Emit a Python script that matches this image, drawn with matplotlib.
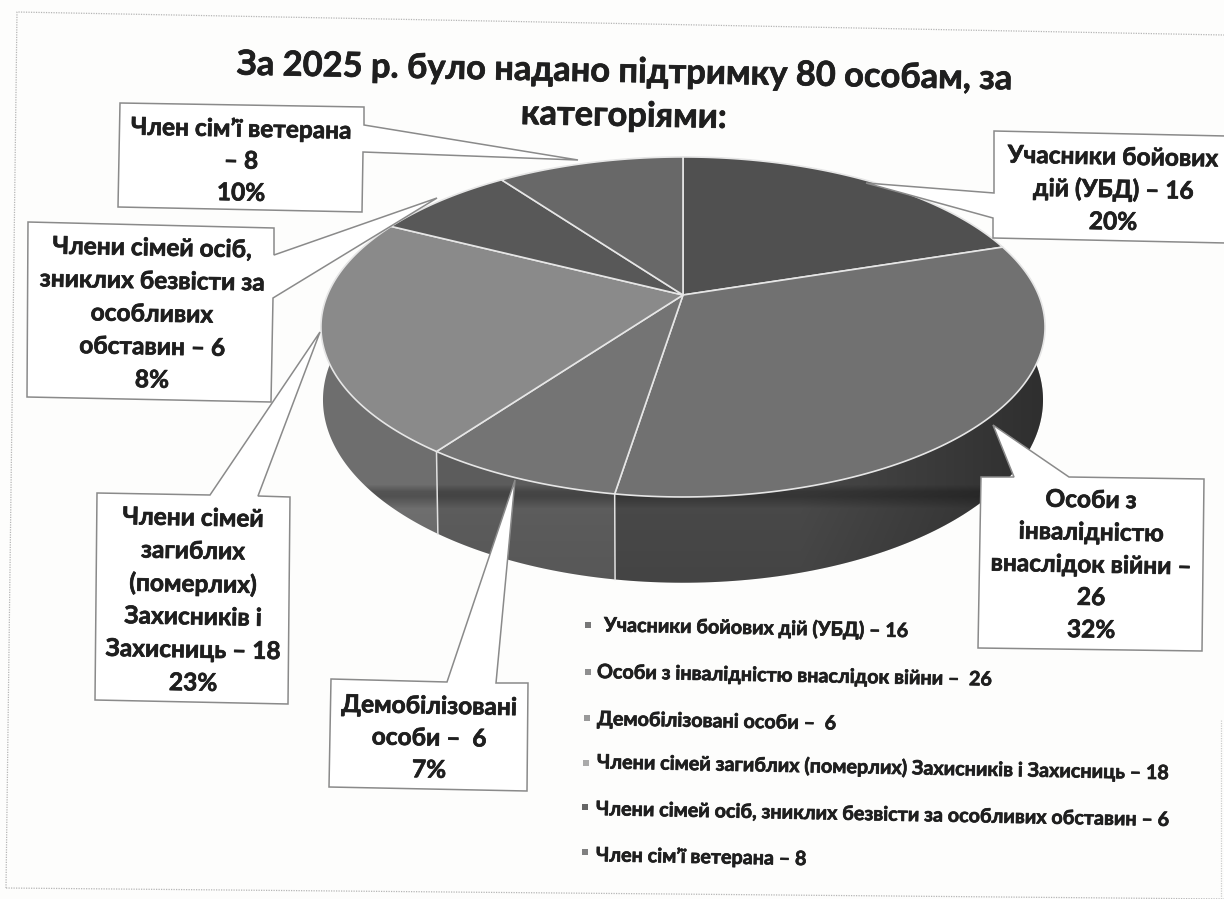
import numpy as np
import matplotlib
matplotlib.use("Agg")
import matplotlib.pyplot as plt
import matplotlib.patheffects as pe
from matplotlib.patches import PathPatch
from matplotlib.path import Path

plt.rcParams['font.family'] = ['Lato', 'Noto Sans', 'DejaVu Sans']
plt.rcParams['font.weight'] = 'bold'

title_lines = ["За 2025 р. було надано підтримку 80 особам, за", "категоріями:"]

values = [16, 26, 6, 18, 6, 8]
percents = ["20%", "32%", "7%", "23%", "8%", "10%"]

callout_lines = [
    ["Учасники бойових", "дій (УБД) – 16"],
    ["Особи з", "інвалідністю", "внаслідок війни –", "26"],
    ["Демобілізовані", "особи –  6"],
    ["Члени сімей", "загиблих", "(померлих)", "Захисників і", "Захисниць – 18"],
    ["Члени сімей осіб,", "зниклих безвісти за", "особливих", "обставин – 6"],
    ["Член сім’ї ветерана", "– 8"],
]

legend_labels = [
    "Учасники бойових дій (УБД) – 16",
    "Особи з інвалідністю внаслідок війни –  26",
    "Демобілізовані особи –  6",
    "Члени сімей загиблих (померлих) Захисників і Захисниць – 18",
    "Члени сімей осіб, зниклих безвісти за особливих обставин – 6",
    "Член сім’ї ветерана – 8",
]

top_colors = ["#505050", "#717171", "#747474", "#8a8a8a", "#585858", "#686868"]
side_colors = ["#333333", "#484848", "#5c5c5c", "#6e6e6e", "#5a5a5a", "#5a5a5a"]
legend_colors = ["#777777", "#8f8f8f", "#999999", "#aaaaaa", "#666666", "#808080"]

# box outline, pointer (attach a, tip, attach b), first text line y, line step
boxes = [
    dict(corners=[(994, 131), (1226, 136), (1226, 243), (993, 238)], side=0,
         ptr=[(994, 193), (866, 183), (993, 218)], cx=1113, y0=157, step=32.5),
    dict(corners=[(981, 477), (1204, 479), (1202, 651), (978, 648)], side=0,
         ptr=[(1069, 477), (993, 425), (1014, 477)], cx=1091, y0=500, step=32.5),
    dict(corners=[(331, 679), (528, 683), (527, 791), (329, 787)], side=0,
         ptr=[(496, 683), (515, 480), (447, 682)], cx=429, y0=706, step=32),
    dict(corners=[(97, 493), (290, 497), (288, 704), (95, 700)], side=0,
         ptr=[(258, 496), (320, 332), (210, 495)], cx=193, y0=518, step=33),
    dict(corners=[(28, 222), (274, 228), (271, 402), (27, 397)], side=1,
         ptr=[(273, 298), (437, 198), (274, 255)], cx=152, y0=248, step=33),
    dict(corners=[(120, 103), (364, 107), (362, 212), (118, 207)], side=1,
         ptr=[(363, 152), (578, 160), (364, 125)], cx=241, y0=129, step=32),
]

legend_y = [625, 672, 719, 762, 809, 855]
legend_x = [604, 597, 597, 597, 596, 596]
marker_x = [588, 588, 587, 586, 585, 585]
marker_y = [625, 672, 718, 763, 807, 852]

SCAN_TILT = -1.1
INK = "#1f1f1f"
heavy = [pe.withStroke(linewidth=0.5, foreground=INK)]


def project(theta, cy, a, b, k=0.188, cx=683):
    # circle to ellipse with a perspective shift, theta clockwise from the top
    u, v = np.sin(theta), np.cos(theta)
    w = 1 + k * v
    return cx + a * u / w, cy - b * v / w


def top_rim(theta):
    return project(theta, 295, 355.6, 164)


def bottom_rim(theta):
    return project(theta, 365.5, 353.6, 176.4)


fig = plt.figure(figsize=(12.24, 8.99), dpi=100, facecolor="#fdfdfc")
ax = fig.add_axes([0, 0, 1, 1])
ax.axis("off")

# scan frame
ax.plot([6, 17, 1224], [888, 12, 35], color="#b5b5b5", lw=0.9, ls=(0, (1, 1)))
ax.plot([6, 1224], [888, 899], color="#b5b5b5", lw=0.9, ls=(0, (1, 1)))
ax.plot([1221, 1221], [720, 899], color="#cccccc", lw=0.9, ls=(0, (1, 1)))

edges = np.radians(np.concatenate([[0], np.cumsum(values)]) / np.sum(values) * 360)

# sides
for i in range(len(values)):
    t = np.linspace(edges[i], edges[i + 1], 120)
    xt, yt = top_rim(t)
    xb, yb = bottom_rim(t)
    ax.fill(np.r_[xt, xb[::-1]], np.r_[yt, yb[::-1]], color=side_colors[i], lw=0, zorder=2)

# streak and darker right end of the side, clipped to the outline
t_front = np.radians(np.linspace(90, 270, 200))
t_back = np.radians(np.linspace(270, 450, 200))
xa, ya = bottom_rim(t_front)
xc, yc = top_rim(t_back)
outline = Path(np.c_[np.r_[xa, xc], np.r_[ya, yc]])
ys = np.arange(300, 600)
xs_shade = np.arange(300, 1060)
streak = np.interp(ys, [300, 484, 491, 496, 503, 508, 590], [0, 0, 0.24, 0.26, 0.12, 0, 0.06])
ramp = np.interp(xs_shade, [300, 800, 1040], [0, 0, 0.35])
shade = np.zeros((len(ys), len(xs_shade), 4))
shade[:, :, 3] = 1 - (1 - streak[:, None]) * (1 - ramp[None, :])
im = ax.imshow(shade, extent=(300, 1060, 600, 300), aspect="auto", zorder=3)
im.set_clip_path(PathPatch(outline, transform=ax.transData))

# white dividers on the front of the side
for e in edges[2:4]:
    xt, yt = top_rim(e)
    xb, yb = bottom_rim(e)
    ax.plot([xt, xb], [yt, yb], color="#e0e0e0", lw=1.1, zorder=3.5)

# top
for i in range(len(values)):
    t = np.linspace(edges[i], edges[i + 1], 120)
    x, y = top_rim(t)
    ax.fill(np.r_[683, x], np.r_[295, y], color=top_colors[i], ec="#e6e6e6", lw=1.2,
            joinstyle="round", zorder=4)

# callouts
for box, lines, pct in zip(boxes, callout_lines, percents):
    c = box["corners"]
    a, tip, b = box["ptr"]
    # pointer starts on the box side: right side of the left boxes, top side or left side otherwise
    if box["side"] == 1:
        pts = [c[0], c[1], b, tip, a, c[2], c[3]]
    elif c[0][0] > 900 and a[0] < 1000 and b[0] < 1000:
        pts = [c[0], c[1], c[2], c[3], b, tip, a]
    else:
        pts = [c[0], b, tip, a, c[1], c[2], c[3]]
    xs, ys_box = zip(*pts)
    ax.fill(xs, ys_box, fc="white", ec="#8a8a8a", lw=1.1, zorder=5)
    for j, line in enumerate(list(lines) + [pct]):
        ax.text(box["cx"], box["y0"] + j * box["step"], line, ha="center", va="center",
                fontsize=17.6, color=INK, rotation=SCAN_TILT, rotation_mode="anchor",
                path_effects=heavy, zorder=6)

# title
ax.text(625, 72, title_lines[0], ha="center", va="center", fontsize=24.8, color=INK,
        rotation=SCAN_TILT, rotation_mode="anchor", path_effects=heavy, zorder=6)
ax.text(624, 116, title_lines[1], ha="center", va="center", fontsize=24.8, color=INK,
        rotation=SCAN_TILT, rotation_mode="anchor", path_effects=heavy, zorder=6)

# legend
ax.scatter(marker_x, marker_y, marker="s", s=20, c=legend_colors, lw=0, zorder=6)
for x, y, label in zip(legend_x, legend_y, legend_labels):
    ax.text(x, y, label, ha="left", va="center", fontsize=14.2, color=INK,
            rotation=SCAN_TILT, rotation_mode="anchor", path_effects=heavy, zorder=6)

ax.set_xlim(0, 1224)
ax.set_ylim(899, 0)
fig.savefig("out.png", dpi=100, facecolor=fig.get_facecolor())
